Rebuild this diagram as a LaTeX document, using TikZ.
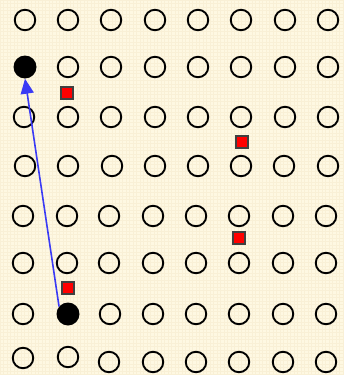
\documentclass[tikz,border=0pt]{standalone}
\usetikzlibrary{arrows.meta}
\definecolor{cream}{HTML}{FEF8E2}
\definecolor{gridc}{HTML}{F9F0D6}
\definecolor{linkblue}{HTML}{3A3AF5}
\begin{document}
\begin{tikzpicture}[x=1pt,y=-1pt,
  ring/.style={circle,draw=black,line width=1.9pt,minimum width=20.5pt,inner sep=0pt},
  full/.style={circle,fill=black,minimum size=23pt,inner sep=0pt},
  redsq/.style={rectangle,draw=black!75,fill=red,line width=1.3pt,minimum size=12pt,inner sep=0pt},
  link/.style={draw=linkblue,line width=1.6pt,-{Triangle[length=15pt,width=13pt]}}]
\useasboundingbox (0,0) rectangle (343,375);
\fill[cream] (0,0) rectangle (343,375);
\foreach \g in {0,3.5,...,343} \draw[gridc,line width=0.3pt] (\g,0) -- (\g,375);
\foreach \g in {0,3.5,...,375} \draw[gridc,line width=0.3pt] (0,\g) -- (343,\g);
% row 1
\foreach \x [count=\i] in {25,68,111,155,198,241,285,328}
  \node[ring] (r1c\i) at (\x,20) {};
% row 2
\node[full] (f1) at (25,67) {};
\foreach \x [count=\i from 2] in {68,111,155,198,241,285,328}
  \node[ring] (r2c\i) at (\x,67) {};
% row 3
\foreach \x [count=\i] in {24,68,111,155,198,241,285,328}
  \node[ring] (r3c\i) at (\x,117) {};
% row 4
\foreach \x [count=\i] in {25,68,112,155,198,241,284,328}
  \node[ring] (r4c\i) at (\x,166) {};
% row 5
\foreach \x [count=\i] in {23,67,109,153,196,239,283,326}
  \node[ring] (r5c\i) at (\x,216) {};
% row 6
\foreach \x [count=\i] in {23,67,109,153,196,239,283,326}
  \node[ring] (r6c\i) at (\x,263) {};
% row 7
\node[ring] (r7c1) at (23,314) {};
\node[full] (f2) at (68,314) {};
\foreach \x [count=\i from 3] in {110,153,196,239,283,326}
  \node[ring] (r7c\i) at (\x,314) {};
% row 8
\node[ring] (r8c1) at (23,358) {};
\node[ring] (r8c2) at (68,357) {};
\foreach \x [count=\i from 3] in {109,153,196,239,283,326}
  \node[ring] (r8c\i) at (\x,362) {};
% red squares
\node[redsq] (s1) at (67,93) {};
\node[redsq] (s2) at (242,142) {};
\node[redsq] (s3) at (239,238) {};
\node[redsq] (s4) at (68,288) {};
% arrow
\draw[link] (f2.140) -- (f1.south);
\end{tikzpicture}
\end{document}
